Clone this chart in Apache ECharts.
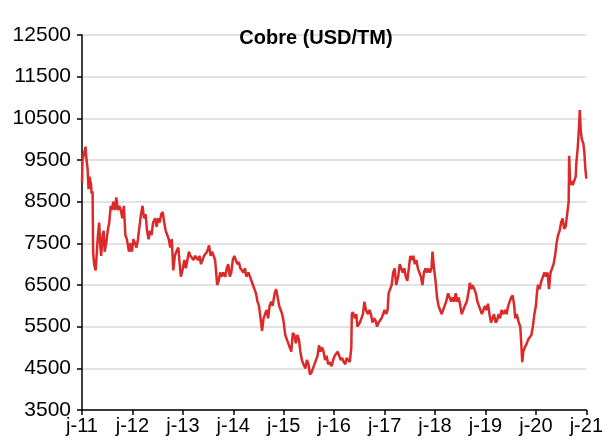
<!DOCTYPE html>
<html>
<head>
<meta charset="utf-8">
<script src="https://cdn.jsdelivr.net/npm/echarts@6/dist/echarts.min.js"></script>
<style>html,body{margin:0;padding:0;background:#fff}#c{width:606px;height:445px}</style>
</head>
<body>
<div id="c"></div>
<script>
var tickLabels = ["j-11","j-12","j-13","j-14","j-15","j-16","j-17","j-18","j-19","j-20","j-21"];
// time in years from j-11
var times = [0.00,0.01,0.03,0.05,0.07,0.09,0.11,0.13,0.15,0.18,0.19,0.21,0.22,0.24,0.27,0.29,0.31,0.34,0.36,0.38,0.41,0.43,0.45,0.48,0.51,0.54,0.57,0.59,0.62,0.65,0.68,0.71,0.74,0.77,0.80,0.83,0.86,0.89,0.93,0.96,0.99,1.02,1.05,1.08,1.11,1.14,1.17,1.20,1.23,1.26,1.29,1.32,1.35,1.38,1.41,1.45,1.48,1.51,1.54,1.57,1.60,1.63,1.66,1.69,1.72,1.75,1.78,1.81,1.84,1.87,1.91,1.93,1.96,2.00,2.03,2.06,2.09,2.12,2.15,2.18,2.21,2.24,2.27,2.30,2.33,2.36,2.39,2.42,2.45,2.48,2.52,2.55,2.58,2.61,2.64,2.67,2.68,2.71,2.74,2.77,2.80,2.84,2.87,2.90,2.93,2.96,2.99,3.02,3.05,3.08,3.11,3.14,3.17,3.20,3.23,3.26,3.30,3.33,3.36,3.39,3.42,3.45,3.48,3.51,3.54,3.57,3.60,3.63,3.66,3.69,3.72,3.75,3.78,3.82,3.85,3.88,3.91,3.94,3.97,4.00,4.03,4.06,4.09,4.12,4.15,4.18,4.21,4.24,4.27,4.30,4.33,4.36,4.39,4.43,4.46,4.49,4.52,4.55,4.58,4.61,4.64,4.67,4.70,4.73,4.76,4.79,4.82,4.85,4.88,4.91,4.95,4.98,5.01,5.04,5.07,5.10,5.13,5.16,5.19,5.22,5.25,5.28,5.31,5.34,5.35,5.37,5.41,5.44,5.46,5.48,5.51,5.54,5.57,5.60,5.63,5.67,5.70,5.73,5.76,5.79,5.82,5.85,5.88,5.91,5.94,5.97,6.00,6.03,6.06,6.08,6.11,6.14,6.17,6.20,6.23,6.27,6.30,6.33,6.36,6.39,6.42,6.45,6.48,6.51,6.54,6.57,6.60,6.63,6.66,6.69,6.72,6.75,6.78,6.81,6.84,6.87,6.90,6.93,6.95,6.98,7.01,7.04,7.07,7.10,7.13,7.16,7.19,7.22,7.26,7.29,7.32,7.35,7.38,7.41,7.44,7.47,7.50,7.53,7.56,7.59,7.63,7.66,7.69,7.72,7.74,7.78,7.81,7.84,7.87,7.90,7.93,7.96,7.99,8.02,8.05,8.08,8.11,8.14,8.17,8.20,8.23,8.26,8.29,8.32,8.36,8.39,8.42,8.45,8.48,8.51,8.54,8.57,8.59,8.62,8.66,8.69,8.71,8.73,8.75,8.78,8.82,8.85,8.88,8.91,8.94,8.97,9.00,9.02,9.04,9.07,9.11,9.14,9.17,9.20,9.23,9.26,9.29,9.32,9.35,9.38,9.41,9.44,9.47,9.50,9.53,9.56,9.59,9.63,9.65,9.66,9.68,9.70,9.73,9.76,9.79,9.80,9.83,9.86,9.87,9.89,9.91,9.94,9.96,9.98,10.00];
var prices = [8950,9500,9600,9700,9820,9500,9300,8800,9100,8900,8700,8750,7300,7000,6850,7200,7600,8000,7500,7200,7700,7800,7300,7500,7800,8000,8400,8300,8500,8300,8600,8300,8400,8300,8100,8400,7700,7600,7300,7500,7300,7600,7500,7400,7600,7600,8200,8400,8100,8200,7800,7600,7800,7700,8000,8100,7900,8100,8000,8200,8250,8000,7800,7700,7600,7400,7600,6850,7200,7300,7400,7100,6700,6900,7100,6900,7100,7300,7200,7200,7100,7200,7200,7100,7200,7000,7000,7200,7200,7300,7450,7200,7300,7200,7100,7100,6500,6600,6800,6700,6800,6700,6900,7000,6700,6800,7100,7200,7100,7000,7050,6900,6900,6800,6900,6700,6800,6700,6700,6500,6400,6300,6100,6000,5700,5400,5700,5800,5900,5700,6000,6100,6000,6300,6400,6200,6000,5900,5800,5600,5300,5200,5100,5000,4900,5350,5300,5100,5300,5200,4900,4700,4600,4500,4700,4600,4350,4400,4500,4600,4700,4800,5050,4900,5000,4900,4700,4800,4600,4650,4550,4700,4800,4850,4900,4800,4700,4750,4650,4600,4750,4700,4650,5000,5800,5850,5700,5800,5500,5500,5600,5700,5800,6100,5900,5800,5900,5800,5600,5700,5650,5500,5600,5600,5700,5800,5900,5800,5900,6300,6400,6500,6800,6900,6500,6700,7000,6900,6800,6900,6700,6600,6900,7200,7100,7200,7000,7100,6900,6900,6700,6500,6800,6900,6800,6900,6800,6900,7300,6900,6600,6200,6000,5900,5800,5900,6000,6100,6300,6200,6100,6200,6100,6300,6100,6200,6000,5800,5900,6000,6100,6300,6550,6400,6500,6400,6300,6100,6000,5900,5800,5900,6000,5900,6050,5800,5600,5700,5800,5600,5650,5800,5700,5900,5800,5900,5800,6000,6100,6200,6250,6000,5700,5800,5600,5500,5100,4650,4900,5000,5100,5200,5200,5300,5500,5800,6000,6300,6500,6400,6600,6700,6800,6700,6800,6400,6800,6900,7000,7200,7500,7700,7800,8000,8100,7850,7900,8300,8500,9600,8900,9000,8900,9000,9100,9400,9800,10400,10700,10200,10000,9900,9700,9300,9050];

var seriesData = times.map(function(t, i){ return [t, prices[i]]; });

var chart = echarts.init(document.getElementById('c'), null, {renderer:'canvas'});
chart.setOption({
  animation: false,
  backgroundColor: '#ffffff',
  title: {
    text: 'Cobre (USD/TM)',
    left: 311, top: 23, textAlign: 'center',
    textStyle: {fontFamily: 'Liberation Sans', fontWeight: 'bold', fontSize: 20, color: '#000'}
  },
  grid: {left: 82, right: 16, top: 35, bottom: 35, containLabel: false},
  xAxis: {
    type: 'value', min: 0, max: 10, interval: 1,
    axisLine: {lineStyle: {color: '#000', width: 1.5}},
    axisTick: {show: true, inside: false, length: 5, lineStyle: {color: '#000', width: 1.5}},
    axisLabel: {
      fontFamily: 'Liberation Sans', fontSize: 20, color: '#000', margin: 6,
      formatter: function(v){ return tickLabels[Math.round(v)]; }
    },
    splitLine: {show: false}
  },
  yAxis: {
    type: 'value', min: 3500, max: 12500, interval: 1000,
    axisLine: {show: true, lineStyle: {color: '#000', width: 1.5}},
    axisTick: {show: true, inside: false, length: 5, lineStyle: {color: '#000', width: 1.5}},
    axisLabel: {fontFamily: 'Liberation Sans', fontSize: 21, color: '#000', margin: 11,
      formatter: function(v){ return String(v); }},
    splitLine: {show: true, lineStyle: {color: '#d9d9d9', width: 1.5}}
  },
  series: [{
    type: 'line', data: seriesData, showSymbol: false, symbol: 'none',
    lineStyle: {color: '#dc2a2a', width: 2.5}
  }]
});
</script>
</body>
</html>
